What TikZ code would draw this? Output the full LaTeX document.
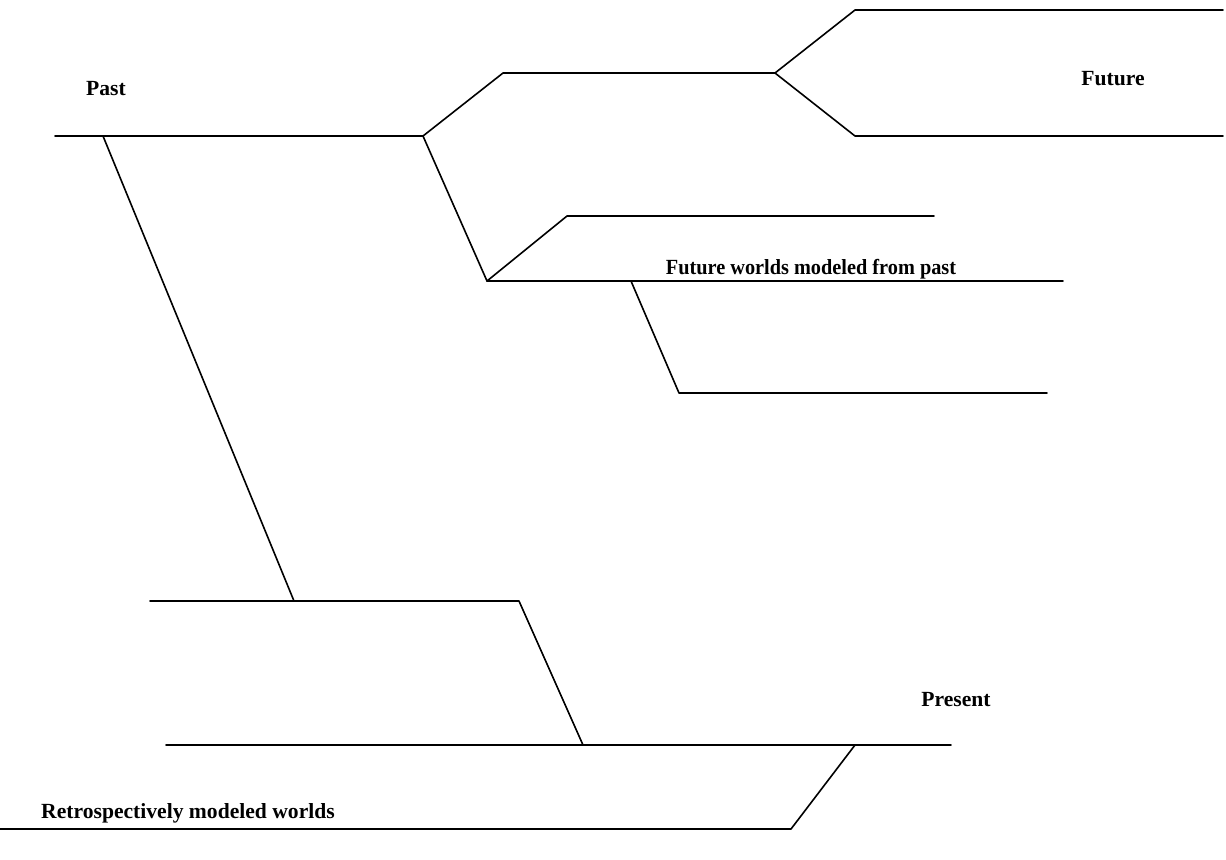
\documentclass[tikz,border=0pt]{standalone}
\usepackage{fontspec}
\setmainfont{Liberation Serif}
\tikzset{
  world/.style={line width=0.8pt, line cap=round, line join=round},
  lbl/.style={font=\bfseries\fontsize{10.8}{12}\selectfont, inner sep=0pt}
}
\begin{document}
\begin{tikzpicture}[x=0.5pt, y=-0.5pt]
    \useasboundingbox (0,0) rectangle (1226,859);

    % branch points
    \coordinate (fork) at (423,136);
    \coordinate (up) at (775,73);
    \coordinate (low) at (487,281);
    \coordinate (sub) at (631,281);
    \coordinate (back) at (103,136);
    \coordinate (mid) at (294,601);
    \coordinate (now) at (583,745);
    \coordinate (ret) at (855,745);

    % past and future worlds
    \draw[world] (55,136) -- (fork) -- (503,73) -- (up) -- (855,10) -- (1223,10);
    \draw[world] (up) -- (855,136) -- (1223,136);
    \draw[world] (fork) -- (low) -- (567,216) -- (934,216);
    \draw[world] (low) -- (1063,281);
    \draw[world] (sub) -- (679,393) -- (1047,393);

    % retrospective worlds
    \draw[world] (back) -- (mid);
    \draw[world] (150,601) -- (519,601) -- (now);
    \draw[world] (166,745) -- (951,745);
    \draw[world] (ret) -- (791,829) -- (0,829);

    \node[lbl] (past) at (106,89) {Past};
    \node[lbl] (future) at (1113,79) {Future};
    \node[lbl, xscale=0.94] (modeled) at (811,269) {Future worlds modeled from past};
    \node[lbl] (present) at (956,700) {Present};
    \node[lbl] (retro) at (188,813) {Retrospectively modeled worlds};
\end{tikzpicture}
\end{document}
